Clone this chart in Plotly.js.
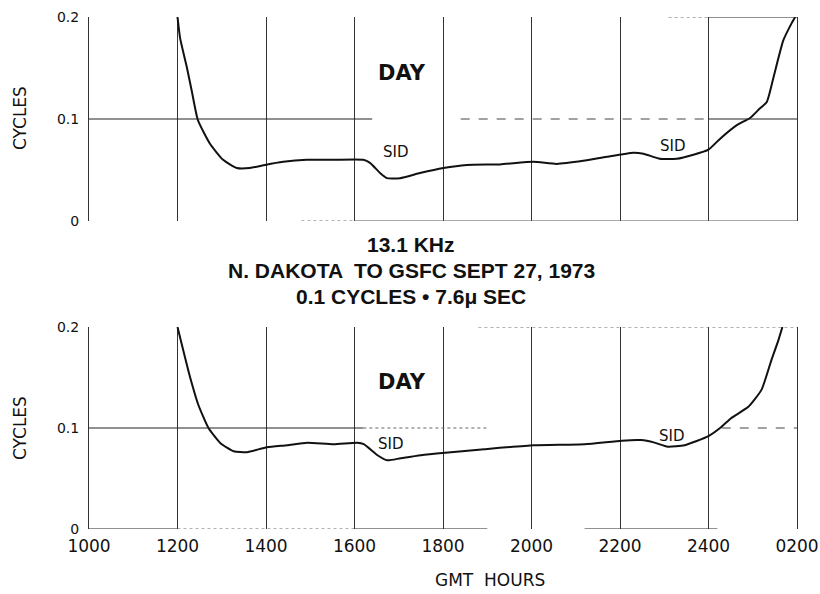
<!DOCTYPE html>
<html><head><meta charset="utf-8">
<script src="https://cdn.plot.ly/plotly-3.0.1.min.js"></script>
<style>html,body{margin:0;padding:0;background:#fff}</style>
</head><body>
<div id="chart" style="width:820px;height:594px"></div>
<script>
// GMT hours (0200 next day = 2600)
const topHours = [1200,1206,1221,1232,1246,1273,1303,1334,1364,1398,1439,1492,1552,1620,1635,1658,1673,1703,1748,1801,1854,1929,2004,2057,2117,2170,2230,2253,2290,2328,2366,2400,2427,2464,2494,2513,2532,2547,2569,2588,2596];
const topCycles = [0.200,0.179,0.151,0.128,0.099,0.076,0.060,0.052,0.052,0.055,0.058,0.060,0.060,0.060,0.057,0.047,0.042,0.042,0.047,0.052,0.055,0.0555,0.058,0.056,0.059,0.063,0.067,0.066,0.061,0.061,0.065,0.070,0.081,0.094,0.101,0.109,0.117,0.141,0.177,0.194,0.200];
const botHours = [1200,1213,1228,1247,1270,1297,1327,1357,1402,1448,1493,1553,1606,1621,1652,1674,1704,1750,1805,1893,2005,2120,2204,2248,2278,2308,2346,2400,2429,2452,2490,2520,2542,2558,2567];
const botCycles = [0.200,0.177,0.151,0.123,0.100,0.085,0.077,0.076,0.081,0.083,0.0855,0.084,0.0855,0.084,0.073,0.068,0.070,0.073,0.0755,0.079,0.083,0.084,0.0875,0.088,0.0855,0.0815,0.083,0.092,0.101,0.110,0.121,0.138,0.167,0.187,0.200];
const hourTicks = [1000,1200,1400,1600,1800,2000,2200,2400,2600];
const hourLabels = ['1000','1200','1400','1600','1800','2000','2200','2400','0200'];
const cycleTicks = [0,0.1,0.2];
const cycleLabels = ['0','0.1','0.2'];
const titleLines = ['13.1 KHz','N. DAKOTA  TO GSFC SEPT 27, 1973','0.1 CYCLES \u2022 7.6\u03bc SEC'];

const W = 820, H = 594;
const px = v => v / W, py = v => 1 - v / H;
const ink = '#111';

const lineTrace = (x, y, xa, ya) => ({
  x: x, y: y, xaxis: xa, yaxis: ya, type: 'scatter', mode: 'lines',
  line: {color: ink, width: 2, shape: 'spline', smoothing: 0.5},
  hoverinfo: 'skip', showlegend: false
});

const xBase = {
  range: [1000, 2600], domain: [px(89), px(797)], tickvals: hourTicks, ticktext: hourLabels,
  showgrid: true, gridcolor: '#333', gridwidth: 1, zeroline: false, showline: false, ticks: '',
  tickfont: {family: 'DejaVu Sans', size: 17, color: ink}, ticklabelstandoff: 5, fixedrange: true
};
const yBase = {
  range: [0, 0.2], tickvals: cycleTicks, ticktext: cycleLabels,
  showgrid: false, zeroline: false, showline: true, mirror: true, linecolor: '#333', linewidth: 1, ticks: '',
  tickfont: {family: 'DejaVu Sans', size: 14, color: ink}, ticklabelstandoff: 6, fixedrange: true
};

function hseg(xr, yr, y, x0, x1, dash, color) {
  return {type: 'line', xref: xr, yref: yr, x0: x0, x1: x1, y0: y, y1: y,
          line: {color: color || '#222', width: 1, dash: dash || 'solid'}};
}

const shapes = [
  // top panel
  hseg('x', 'y', 0.1, 1000, 1640),
  hseg('x', 'y', 0.1, 1840, 2400, 'dash', '#444'),
  hseg('x', 'y', 0.1, 2400, 2600),
  hseg('x', 'y', 0.2, 2310, 2400, 'dot', '#666'),
  hseg('x', 'y', 0.2, 2400, 2600),
  hseg('x', 'y', 0, 1480, 1600, 'dot', '#666'),
  hseg('x', 'y', 0, 1600, 2600, 'solid', '#555'),
  // bottom panel
  hseg('x2', 'y2', 0.1, 1000, 1620),
  hseg('x2', 'y2', 0.1, 1620, 1900, 'dot', '#666'),
  hseg('x2', 'y2', 0.1, 2430, 2600, 'dash', '#444'),
  hseg('x2', 'y2', 0.2, 1880, 2600, 'dot', '#666'),
  hseg('x2', 'y2', 0, 1000, 1200),
  hseg('x2', 'y2', 0, 1200, 1600, 'dot', '#666'),
  hseg('x2', 'y2', 0, 1600, 1900),
  hseg('x2', 'y2', 0, 2120, 2420)
];

function note(text, x, y, font, extra) {
  return Object.assign({text: text, xref: 'paper', yref: 'paper', x: px(x), y: py(y),
    xanchor: 'center', yanchor: 'middle', showarrow: false, font: font}, extra || {});
}

const titleFont = {family: 'Liberation Sans', size: 21, color: ink};
const annotations = [];
titleLines.forEach((t, i) => annotations.push(note('<b>' + t + '</b>', 411, [244, 270, 296][i], titleFont)));
const dayFont = {family: 'DejaVu Sans', size: 21, color: ink};
annotations.push(note('<b>DAY</b>', 402, 73, dayFont));
annotations.push(note('<b>DAY</b>', 402, 382, dayFont));
const sidFont = {family: 'DejaVu Sans', size: 15, color: ink};
[[396, 152], [673, 146], [391, 444], [672, 436]].forEach(p => annotations.push(note('SID', p[0], p[1], sidFont)));
const axFont = {family: 'DejaVu Sans', size: 17, color: ink};
[118, 428].forEach(yy => annotations.push(note('CYCLES', 20, yy, axFont, {textangle: -90})));
annotations.push(note('GMT\u00a0\u00a0HOURS', 490, 580, axFont));

const layout = {
  width: W, height: H, margin: {l: 0, r: 0, t: 0, b: 0},
  paper_bgcolor: '#fff', plot_bgcolor: '#fff', showlegend: false,
  xaxis: Object.assign({}, xBase, {anchor: 'y', showticklabels: false}),
  yaxis: Object.assign({}, yBase, {anchor: 'x', domain: [py(221), py(17)]}),
  xaxis2: Object.assign({}, xBase, {anchor: 'y2'}),
  yaxis2: Object.assign({}, yBase, {anchor: 'x2', domain: [py(529), py(327)]}),
  shapes: shapes, annotations: annotations
};

Plotly.newPlot('chart', [lineTrace(topHours, topCycles, 'x', 'y'), lineTrace(botHours, botCycles, 'x2', 'y2')], layout, {displayModeBar: false, staticPlot: true});
</script>
</body></html>
